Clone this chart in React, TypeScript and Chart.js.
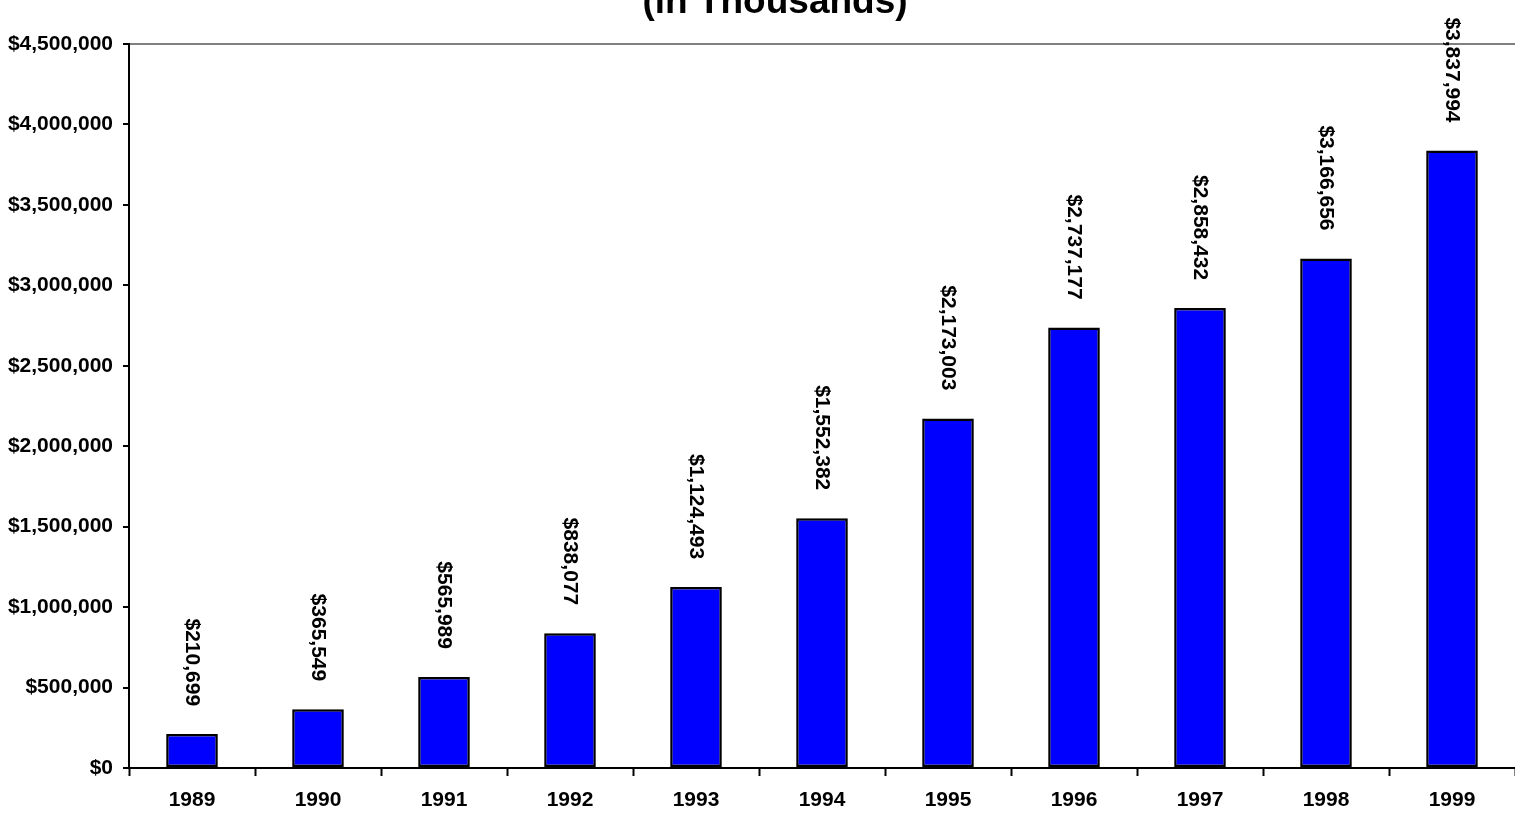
import React, { useEffect, useRef } from "react";
import { Chart, registerables } from "chart.js";

Chart.register(...registerables);

const categories = ["1989", "1990", "1991", "1992", "1993", "1994", "1995", "1996", "1997", "1998", "1999"];
const values = [210699, 365549, 565989, 838077, 1124493, 1552382, 2173003, 2737177, 2858432, 3166656, 3837994];
const titleText = "(in Thousands)";
const yMin = 0;
const yMax = 4500000;
const yStep = 500000;

const FONT = "'Liberation Sans', Arial, Helvetica, sans-serif";
const money = (v: number) => "$" + Math.round(v).toLocaleString("en-US");

const titlePlugin = {
  id: "topTitle",
  afterDraw(chart: any) {
    const ctx = chart.ctx;
    ctx.save();
    ctx.font = `bold 37px ${FONT}`;
    ctx.fillStyle = "#000";
    ctx.textAlign = "center";
    ctx.textBaseline = "alphabetic";
    ctx.fillText(titleText, 775, 13);
    ctx.restore();
  },
};

const labelPlugin = {
  id: "barLabels",
  afterDatasetsDraw(chart: any) {
    const ctx = chart.ctx;
    const meta = chart.getDatasetMeta(0);
    ctx.save();
    ctx.font = `bold 21px ${FONT}`;
    ctx.fillStyle = "#000";
    meta.data.forEach((bar: any, i: number) => {
      ctx.save();
      ctx.translate(bar.x, bar.y - 28);
      ctx.rotate(Math.PI / 2);
      ctx.textAlign = "right";
      ctx.textBaseline = "middle";
      ctx.fillText(money(values[i]), 0, 0);
      ctx.restore();
    });
    ctx.restore();
  },
};

export default function App() {
  const ref = useRef<HTMLCanvasElement>(null);
  useEffect(() => {
    document.body.style.margin = "0";
    const chart = new Chart(ref.current!, {
      type: "bar",
      data: {
        labels: categories,
        datasets: [
          {
            data: values,
            backgroundColor: "#0000FF",
            borderColor: "#000000",
            borderWidth: 2.5,
            borderSkipped: false,
            barPercentage: 0.41,
            categoryPercentage: 1,
          },
        ],
      },
      options: {
        animation: false,
        responsive: false,
        maintainAspectRatio: false,
        layout: { padding: { top: 44, right: 0, left: 0, bottom: 0 } },
        plugins: { legend: { display: false }, tooltip: { enabled: false }, title: { display: false } },
        scales: {
          x: {
            offset: true,
            grid: { offset: true, drawOnChartArea: false, tickLength: 8, tickColor: "#000", tickWidth: 2 },
            border: { display: true, color: "#000", width: 2 },
            ticks: { color: "#000", font: { family: FONT, size: 21, weight: "bold" }, padding: 12, maxRotation: 0, autoSkip: false },
            afterFit(scale: any) {
              scale.height = 49;
            },
          },
          y: {
            min: yMin,
            max: yMax,
            grid: {
              drawOnChartArea: true,
              color: (c: any) => (c.tick && c.tick.value === yMax ? "#808080" : "rgba(0,0,0,0)"),
              lineWidth: 2,
              tickLength: 6,
              tickColor: "#000",
              tickWidth: 2,
            },
            border: { display: true, color: "#000", width: 2 },
            ticks: {
              stepSize: yStep,
              color: "#000",
              padding: 10,
              font: { family: FONT, size: 21, weight: "bold" },
              callback: (v: any) => money(Number(v)),
            },
            afterFit(scale: any) {
              scale.width = 129;
            },
          },
        },
      },
      plugins: [titlePlugin, labelPlugin],
    });
    return () => chart.destroy();
  }, []);
  return (
    <div style={{ position: "fixed", left: 0, top: 0, width: 1515, height: 817, background: "#fff" }}>
      <canvas ref={ref} width={1515} height={817} style={{ display: "block", width: 1515, height: 817 }} />
    </div>
  );
}
